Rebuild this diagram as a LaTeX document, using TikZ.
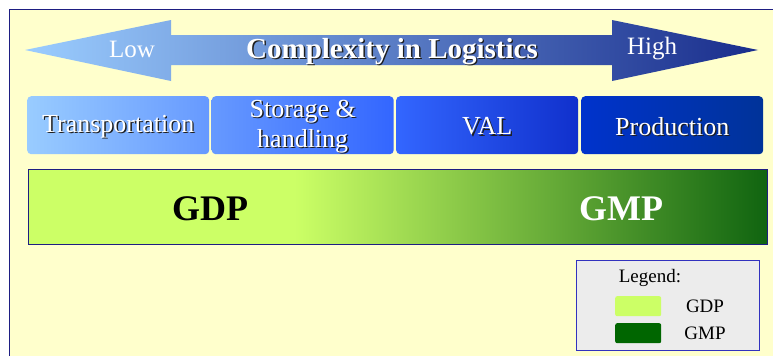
\documentclass[tikz,border=0pt]{standalone}
\usepackage{fontspec}
\setmainfont{Liberation Serif}
\usetikzlibrary{calc}

\definecolor{paper}{RGB}{255,255,204}
\definecolor{frameblue}{RGB}{30,30,130}
\definecolor{gdpgreen}{RGB}{204,255,102}
\definecolor{gmpgreen}{RGB}{16,100,16}
\definecolor{legendgmp}{RGB}{0,102,0}
\definecolor{legendfill}{RGB}{236,236,236}
\definecolor{legendline}{RGB}{50,50,190}
\definecolor{shadowc}{RGB}{30,30,30}

% light green held over the left part, then fading to dark green
\pgfdeclarehorizontalshading{gdpgmp}{100bp}{color(0bp)=(gdpgreen); color(43bp)=(gdpgreen); color(75bp)=(gmpgreen); color(100bp)=(gmpgreen)}

% white text with a dark drop shadow
\newcommand\shd[1]{\makebox[0pt][l]{\hspace{1.4pt}\raisebox{-1.4pt}{\color{shadowc}#1}}#1}

\tikzset{
  stagebox/.style={rounded corners=4pt, draw=none, minimum width=182pt, minimum height=58pt,
    anchor=north west, inner sep=0pt},
  stagetext/.style={text=white, font=\fontsize{26}{30}\selectfont, align=center, inner sep=0pt},
  swatch/.style={rounded corners=2pt, draw=none, minimum width=46pt, minimum height=20pt,
    anchor=north west, inner sep=0pt},
  legendtext/.style={font=\fontsize{19}{22}\selectfont, text=black},
}

\begin{document}
\begin{tikzpicture}[x=1pt, y=-1pt]
\useasboundingbox (0,0) rectangle (773,356);
\fill[white] (0,0) rectangle (773,356);
% page frame
\fill[paper] (9,9) rectangle (773,356);
\draw[frameblue, line width=1pt] (9,356) -- (9,9) -- (773,9);

% double-headed complexity arrow
\path[left color={rgb,255:red,155;green,205;blue,255}, middle color={rgb,255:red,105;green,145;blue,210},
      right color={rgb,255:red,25;green,45;blue,140}]
  (25,50) -- (171,20) -- (171,35) -- (612,35) -- (612,20) -- (758,50)
  -- (612,81) -- (612,65) -- (171,65) -- (171,81) -- cycle;
\node (low) at (132,49) [text=white, font=\fontsize{25}{28}\selectfont] {Low};
\node (high) at (652,49) [text=white, font=\fontsize{25}{28}\selectfont] {High};
\node (title) at (392,52) [text=white, font=\fontsize{29}{32}\selectfont\bfseries] {\shd{Complexity in Logistics}};

% logistics stages
\node (transp) [stagebox, left color={rgb,255:red,153;green,204;blue,255}, right color={rgb,255:red,102;green,153;blue,255}] at (27,96) {};
\node (storage) [stagebox, left color={rgb,255:red,102;green,153;blue,255}, right color={rgb,255:red,51;green,102;blue,255}] at (211.5,96) {};
\node (val) [stagebox, left color={rgb,255:red,51;green,102;blue,255}, right color={rgb,255:red,16;green,48;blue,204}] at (396,96) {};
\node (prod) [stagebox, left color={rgb,255:red,0;green,51;blue,204}, right color={rgb,255:red,0;green,51;blue,153}] at (581,96) {};
\node (transp-t) [stagetext] at ($(transp.center)+(0,2)$) {\shd{Transportation}};
\node (storage-t) [stagetext] at ($(storage.center)+(0,2)$) {\shd{Storage \&}\\\shd{handling}};
\node (val-t) [stagetext] at ($(val.center)+(0,2)$) {\shd{VAL}};
\node (prod-t) [stagetext] at ($(prod.center)+(0,2)$) {\shd{Production}};

% GDP / GMP bar
\node (bar) [draw=frameblue, line width=0.8pt, shading=gdpgmp, minimum width=739pt, minimum height=75pt,
  anchor=north west, inner sep=0pt] at (28,169) {};
\node (gdp) at (210,209) [font=\fontsize{36}{40}\selectfont\bfseries, text=black] {GDP};
\node (gmp) at (621,209) [font=\fontsize{36}{40}\selectfont\bfseries, text=white] {GMP};

% legend
\node (legend) [draw=legendline, line width=0.8pt, fill=legendfill, minimum width=183pt, minimum height=90pt,
  anchor=north west, inner sep=0pt] at (576,260) {};
\node (legtitle) at (650,278) [legendtext] {Legend:};
\node (swgdp) [swatch, fill=gdpgreen] at (615,296) {};
\node (swgmp) [swatch, fill=legendgmp] at (615,323) {};
\node (lgdp) at (705,306) [legendtext] {GDP};
\node (lgmp) at (705,333) [legendtext] {GMP};
\end{tikzpicture}
\end{document}
